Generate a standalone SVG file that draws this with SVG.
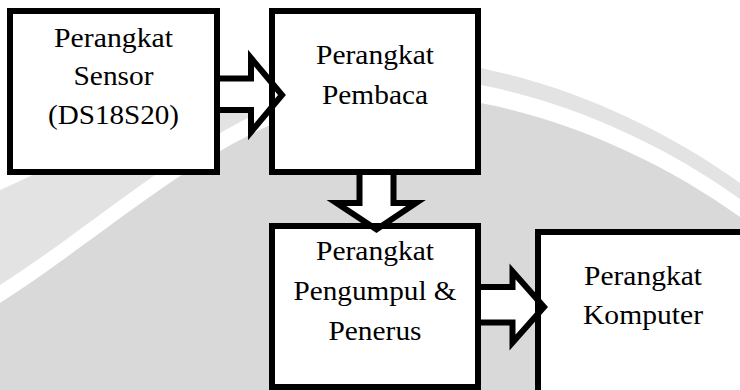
<svg xmlns="http://www.w3.org/2000/svg" width="740" height="390" viewBox="0 0 740 390">
<style>
.box{fill:none;stroke:#000;stroke-width:6}
.bg{fill:#fff}
.arrow{fill:#fff;stroke:#000;stroke-width:6;stroke-linejoin:miter;stroke-miterlimit:10}
.lbl{font-family:'Liberation Serif','Times New Roman',Times,serif;font-size:28px;fill:#000;text-anchor:middle}
</style>
<g id="watermark">
<rect x="0" y="0" width="740" height="390" fill="#fff"/>
<path d="M0,190 C110,140 250,57 400,59 C510,61 640,111 740,183 L740,390 L0,390 Z" fill="#e3e3e3"/>
<path d="M0,285 C130,202 250,77 400,77 C510,77 640,127 740,199 L740,390 L0,390 Z" fill="#fff"/>
<path d="M0,303 C130,220 250,95 400,95 C510,95 640,145 740,217 L740,390 L0,390 Z" fill="#d9d9d9"/>
</g>
<g id="box-fills">
<rect class="bg" x="10" y="11" width="207" height="161"/>
<rect class="bg" x="272" y="11" width="206" height="161"/>
<rect class="bg" x="272" y="226" width="206" height="161"/>
<rect class="bg" x="538" y="232" width="230" height="200"/>
</g>
<g id="connectors">
<polygon class="arrow" points="217,78.5 251,78.5 251,58 282,95 251,132 251,110 217,110"/>
<polygon class="arrow" points="359.5,172 359.5,203 336.5,203 376.5,229.5 416,203 393.5,203 393.5,172"/>
<polygon class="arrow" points="478,287 512.5,287 512.5,271.5 544,307 512.5,342.5 512.5,322.5 478,322.5"/>
</g>
<g id="sensor">
<rect class="box" x="10" y="11" width="207" height="161"/>
<text class="lbl" x="113.5" y="47" textLength="119" lengthAdjust="spacingAndGlyphs">Perangkat</text>
<text class="lbl" x="113.5" y="85" textLength="80" lengthAdjust="spacingAndGlyphs">Sensor</text>
<text class="lbl" x="113.5" y="124" textLength="131" lengthAdjust="spacingAndGlyphs">(DS18S20)</text>
</g>
<g id="pembaca">
<rect class="box" x="272" y="11" width="206" height="161"/>
<text class="lbl" x="375" y="64" textLength="118" lengthAdjust="spacingAndGlyphs">Perangkat</text>
<text class="lbl" x="375" y="104" textLength="106" lengthAdjust="spacingAndGlyphs">Pembaca</text>
</g>
<g id="pengumpul">
<rect class="box" x="272" y="226" width="206" height="161"/>
<text class="lbl" x="375" y="260" textLength="118" lengthAdjust="spacingAndGlyphs">Perangkat</text>
<text class="lbl" x="375" y="300" textLength="163" lengthAdjust="spacingAndGlyphs">Pengumpul &amp;</text>
<text class="lbl" x="375" y="340" textLength="93" lengthAdjust="spacingAndGlyphs">Penerus</text>
</g>
<g id="komputer">
<rect class="box" x="538" y="232" width="230" height="200"/>
<text class="lbl" x="643" y="285" textLength="118" lengthAdjust="spacingAndGlyphs">Perangkat</text>
<text class="lbl" x="643" y="324" textLength="120" lengthAdjust="spacingAndGlyphs">Komputer</text>
</g>
</svg>
